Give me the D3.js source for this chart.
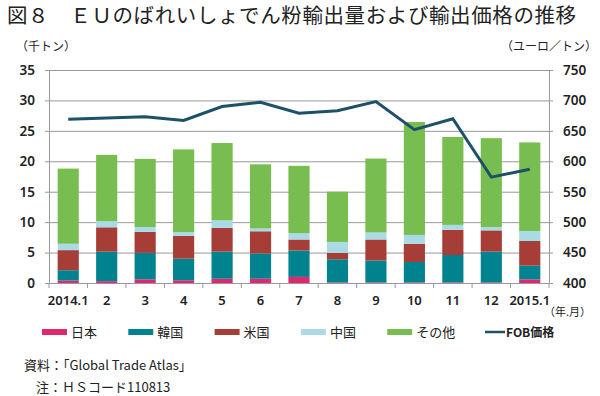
<!DOCTYPE html>
<html lang="ja">
<head>
<meta charset="utf-8">
<script src="https://d3js.org/d3.v7.min.js"></script>
<style>
    body { margin: 0; background: #fff; }
    text { font-family: "Noto Sans CJK JP", "Noto Sans", sans-serif; fill: #222; }
    .tick text { font-family: "Noto Sans", "DejaVu Sans", sans-serif; font-weight: 600; font-size: 13.5px; }
</style>
</head>
<body>
<svg width="600" height="396"></svg>
<script>

// data (千トン / ユーロ/トン)
var months = ["2014.1", "2", "3", "4", "5", "6", "7", "8", "9", "10", "11", "12", "2015.1"];
var japan  = [0.4, 0.3, 0.6, 0.45, 0.7, 0.7, 1.0, 0.1, 0.1, 0.1, 0.1, 0.1, 0.6];
var korea  = [1.7, 4.85, 4.35, 3.55, 4.45, 4.15, 4.35, 3.8, 3.6, 3.35, 4.5, 5.05, 2.25];
var usa    = [3.3, 4.0, 3.45, 3.75, 3.9, 3.65, 1.8, 1.05, 3.45, 3.0, 4.15, 3.5, 4.05];
var china  = [1.05, 1.0, 0.8, 0.6, 1.25, 0.45, 1.05, 1.8, 1.15, 1.45, 0.8, 0.55, 1.65];
var other  = [12.35, 10.9, 11.2, 13.6, 12.7, 10.55, 11.05, 8.25, 12.15, 18.55, 14.45, 14.6, 14.55];
var fob    = [669, 671, 673, 667, 690, 697, 679, 683, 698, 652, 670, 574, 587];

var seriesNames = ["日本", "韓国", "米国", "中国", "その他"];
var seriesData = [japan, korea, usa, china, other];
var colors = ["#e0286f", "#00838f", "#a63d37", "#a9dbe6", "#77bd4f"];
var lineColor = "#1d5069";

var svg = d3.select("svg");
var plotLeft = 49, plotRight = 549, plotTop = 70, plotBottom = 283;

var x = d3.scaleBand().domain(months).range([plotLeft, plotRight]).paddingInner(0.45).paddingOuter(0.225);
var xb = d3.scaleBand().domain(months).range([plotLeft, plotRight]);
var y = d3.scaleLinear().domain([0, 35]).range([plotBottom, plotTop]);
var y2 = d3.scaleLinear().domain([400, 750]).range([plotBottom, plotTop]);

// title
svg.append("text").attr("x", 7).attr("y", 23)
    .style("font-size", "20.5px").style("font-weight", "400").style("letter-spacing", "0.6px")
    .text("図８　ＥＵのばれいしょでん粉輸出量および輸出価格の推移");

svg.append("text").attr("x", 16).attr("y", 51).style("font-size", "12px").text("（千トン）");
svg.append("text").attr("x", 597).attr("y", 51).attr("text-anchor", "end").style("font-size", "12px").text("（ユーロ／トン）");

// grid
svg.append("g").selectAll("line").data(y.ticks(7)).enter().append("line")
    .attr("x1", plotLeft).attr("x2", plotRight)
    .attr("y1", function(d) { return y(d) + 0.5; }).attr("y2", function(d) { return y(d) + 0.5; })
    .attr("stroke", "#999").attr("stroke-width", 1);

// axes
var yAxis = svg.append("g").attr("transform", "translate(" + plotLeft + ",0)")
    .call(d3.axisLeft(y).ticks(7).tickSize(4).tickPadding(10));
var y2Axis = svg.append("g").attr("transform", "translate(" + plotRight + ",0)")
    .call(d3.axisRight(y2).ticks(7).tickSize(4).tickPadding(10));
[yAxis, y2Axis].forEach(function(a) {
    a.selectAll("path, line").attr("stroke", "#999");
    a.selectAll("text").attr("fill", "#222");
});

// stacked bars
var rows = months.map(function(m, i) {
    var r = { month: m };
    seriesNames.forEach(function(s, j) { r[s] = seriesData[j][i]; });
    return r;
});
var stacked = d3.stack().keys(seriesNames)(rows);

svg.append("g").selectAll("g").data(stacked).enter().append("g")
    .attr("fill", function(d, i) { return colors[i]; })
    .selectAll("rect").data(function(d) { return d; }).enter().append("rect")
    .attr("x", function(d) { return x(d.data.month); })
    .attr("width", x.bandwidth())
    .attr("y", function(d) { return y(d[1]); })
    .attr("height", function(d) { return y(d[0]) - y(d[1]); });

// x axis
var xAxis = svg.append("g").attr("transform", "translate(0," + plotBottom + ")");
xAxis.append("line").attr("x1", plotLeft).attr("x2", plotRight).attr("y1", 0.5).attr("y2", 0.5).attr("stroke", "#999");
xAxis.selectAll("line.t").data(months.concat(["end"])).enter().append("line")
    .attr("class", "t")
    .attr("x1", function(d, i) { return i < months.length ? xb(d) : plotRight; })
    .attr("x2", function(d, i) { return i < months.length ? xb(d) : plotRight; })
    .attr("y1", 0).attr("y2", 5).attr("stroke", "#999");
xAxis.selectAll("text").data(months).enter().append("text")
    .attr("x", function(d) { return xb(d) + xb.bandwidth() / 2; })
    .attr("y", 22).attr("text-anchor", "middle")
    .style("font-family", "'Noto Sans', sans-serif").style("font-weight", "600").style("font-size", "13px")
    .text(function(d) { return d; });
svg.append("text").attr("x", 591).attr("y", 316).attr("text-anchor", "end").style("font-size", "11px").text("（年.月）");

// FOB line
svg.append("path").datum(fob)
    .attr("fill", "none").attr("stroke", lineColor).attr("stroke-width", 3)
    .attr("d", d3.line()
        .x(function(d, i) { return xb(months[i]) + xb.bandwidth() / 2; })
        .y(function(d) { return y2(d); }));

// legend
var legend = svg.append("g").attr("transform", "translate(42,332)");
seriesNames.forEach(function(s, i) {
    var g = legend.append("g").attr("transform", "translate(" + (i * 86.3) + ",0)");
    g.append("rect").attr("x", 0).attr("y", -3).attr("width", 25).attr("height", 6).attr("fill", colors[i]);
    g.append("text").attr("x", 29).attr("y", 5).style("font-size", "13px").text(s);
});
var lg = legend.append("g").attr("transform", "translate(443,0)");
lg.append("line").attr("x1", 0).attr("x2", 20).attr("y1", 0).attr("y2", 0).attr("stroke", lineColor).attr("stroke-width", 2.5);
lg.append("text").attr("x", 21).attr("y", 5).style("font-size", "12px").style("font-weight", "600").text("FOB価格");

// source
svg.append("text").attr("x", 24).attr("y", 370).style("font-size", "13px").text("資料：｢Global Trade Atlas｣");
svg.append("text").attr("x", 36).attr("y", 392).style("font-size", "13px").text("注：ＨＳコード110813");

</script>
</body>
</html>
